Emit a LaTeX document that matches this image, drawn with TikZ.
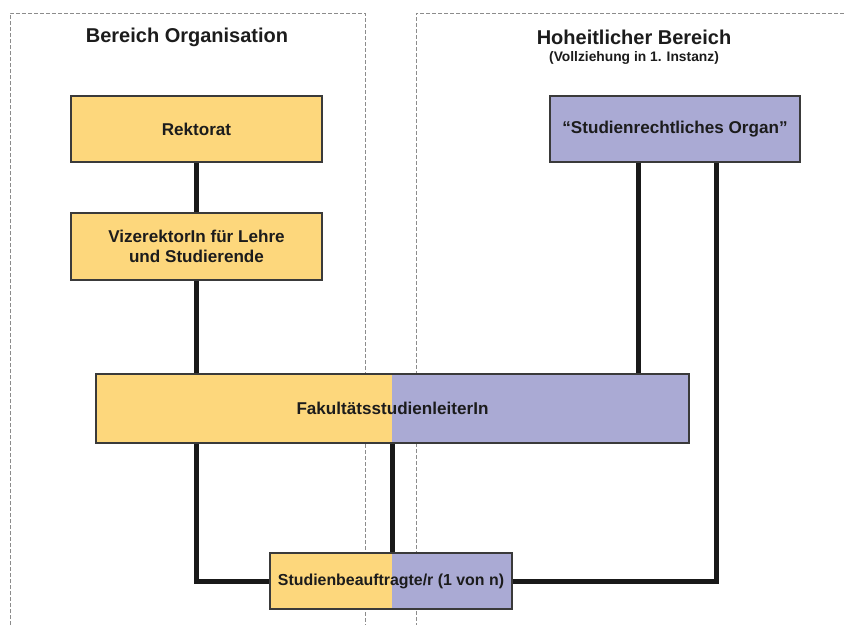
\documentclass[tikz,border=0pt]{standalone}
\usepackage{fontspec}
\setmainfont{Liberation Sans}
\definecolor{ylw}{HTML}{FDD77C}
\definecolor{lav}{HTML}{AAAAD4}
\definecolor{bord}{HTML}{3A3A3A}
\definecolor{txt}{HTML}{1C1C1C}
\definecolor{dashc}{HTML}{8C8C8C}
\begin{document}
\begin{tikzpicture}[x=1pt,y=-1pt,
  box/.style={draw=bord,line width=1.1pt,rectangle,inner sep=0pt,text=txt,
    font=\bfseries\fontsize{17.1}{20}\selectfont,align=center},
  frame/.style={draw=dashc,line width=1pt,dash pattern=on 4pt off 2pt},
  conn/.style={line width=5pt,draw=black!90,line join=miter},
  title/.style={text=txt,font=\bfseries\fontsize{20}{23}\selectfont,inner sep=0pt}]
\useasboundingbox (0,0) rectangle (844,625);
\fill[white] (0,0) rectangle (844,625);
% frames
\draw[frame] (10,625) -- (10,13) -- (365,13) -- (365,625);
\draw[frame] (844,13) -- (416,13) -- (416,625);
% titles
\node[title] (t1) at (187,37) {Bereich Organisation};
\node[title] (t2) at (634,37) {Hoheitlicher Bereich};
\node[text=txt,font=\bfseries\fontsize{13.8}{16}\selectfont,inner sep=0pt] (t3) at (634,58) {(Vollziehung in 1. Instanz)};
\coordinate (split) at (392,0);
\coordinate (o1) at (638,0);
\coordinate (o2) at (716,0);
% boxes
\node[box,fill=ylw,minimum width=251pt,minimum height=66pt] (rek) at (196.5,129) {Rektorat};
\node[box,fill=ylw,minimum width=251pt,minimum height=67pt] (vize) at (196.5,246.5) {VizerektorIn für Lehre\\und Studierende};
\node[box,fill=lav,minimum width=250pt,minimum height=66pt] (organ) at (675,129) {“Studienrechtliches Organ”};
\node[box,fill=lav,minimum width=593pt,minimum height=69pt,
  path picture={\fill[ylw] (path picture bounding box.south west) rectangle (split |- path picture bounding box.north);}] (fak) at (392.5,408.5) {FakultätsstudienleiterIn};
\node[box,fill=lav,minimum width=242pt,minimum height=56pt,font=\bfseries\fontsize{15.9}{19}\selectfont,
  path picture={\fill[ylw] (path picture bounding box.south west) rectangle (split |- path picture bounding box.north);}] (stud) at (391,581) {Studienbeauftragte/r (1 von n)};
% connectors
\draw[conn] (rek.south) -- (vize.north);
\draw[conn] (vize.south) -- (vize.south |- fak.north);
\draw[conn] (o1 |- organ.south) -- (o1 |- fak.north);
\draw[conn] (o2 |- organ.south) |- (stud.east);
\draw[conn] (vize.south |- fak.south) |- (stud.west);
\draw[conn] (split |- fak.south) -- (split |- stud.north);
\end{tikzpicture}
\end{document}
